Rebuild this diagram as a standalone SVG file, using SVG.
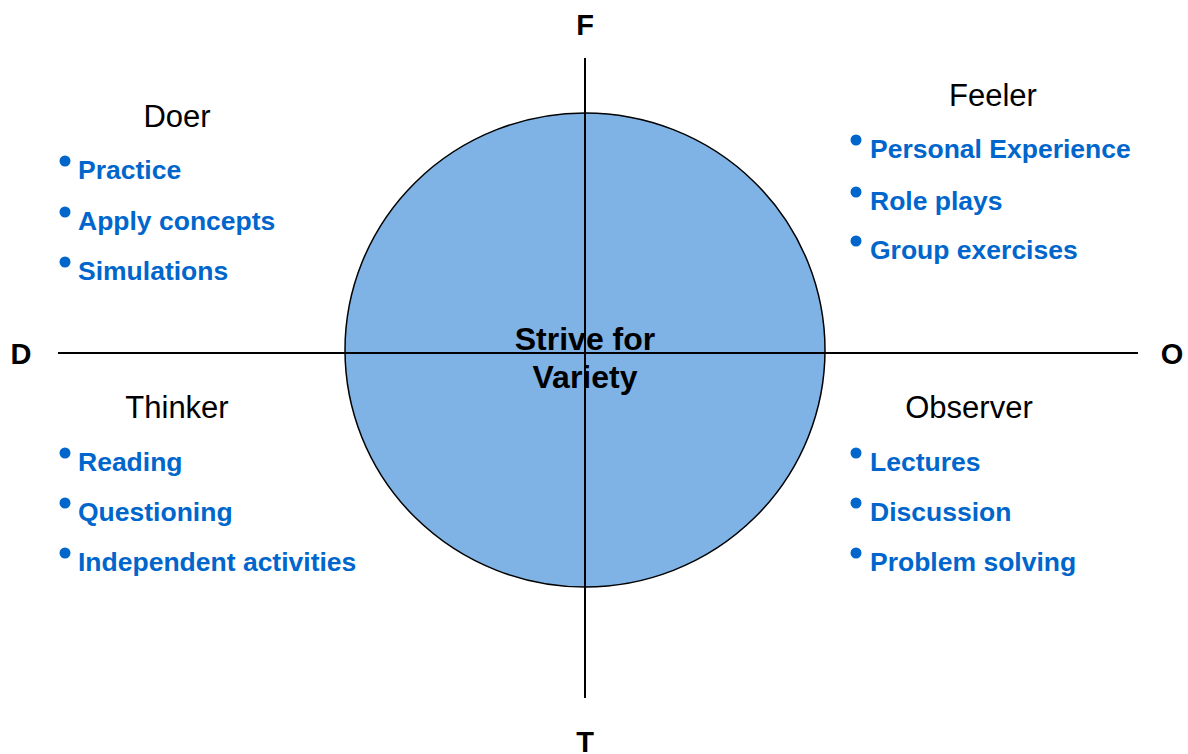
<svg xmlns="http://www.w3.org/2000/svg" width="1188" height="754" viewBox="0 0 1188 754">
<style>
.ax{font-family:"Liberation Sans",Arial,sans-serif;font-weight:bold;font-size:29px;fill:#000;text-anchor:middle}
.hd{font-family:"Liberation Sans",Arial,sans-serif;font-size:31px;fill:#000;text-anchor:middle}
.it{font-family:"Liberation Sans",Arial,sans-serif;font-weight:bold;font-size:26.5px;fill:#0066CC}
.ct{font-family:"Liberation Sans",Arial,sans-serif;font-weight:bold;font-size:32px;fill:#000;text-anchor:middle}
.dot{fill:#0066CC}
.ln{stroke:#000;stroke-width:2;fill:none}
</style>
<rect width="1188" height="754" fill="#fff"/>
<g id="circle">
<ellipse cx="585" cy="350" rx="240" ry="237" fill="#7FB2E5" stroke="#000" stroke-width="1.5"/>
</g>
<g id="connectors">
<line class="ln" x1="58" y1="353" x2="1138" y2="353"/>
<line class="ln" x1="585" y1="58" x2="585" y2="698"/>
</g>
<g id="axis-labels">
<text class="ax" x="585" y="35">F</text>
<text class="ax" x="585" y="752">T</text>
<text class="ax" x="21" y="364">D</text>
<text class="ax" x="1172" y="364">O</text>
</g>
<g id="center">
<text class="ct" x="585" y="350">Strive for</text>
<text class="ct" x="585" y="388">Variety</text>
</g>
<g id="doer">
<text class="hd" x="177" y="127">Doer</text>
<circle class="dot" cx="65" cy="161" r="5.5"/><text class="it" x="78" y="179">Practice</text>
<circle class="dot" cx="65" cy="212" r="5.5"/><text class="it" x="78" y="230">Apply concepts</text>
<circle class="dot" cx="65" cy="262" r="5.5"/><text class="it" x="78" y="280">Simulations</text>
</g>
<g id="feeler">
<text class="hd" x="993" y="106">Feeler</text>
<circle class="dot" cx="856" cy="140" r="5.5"/><text class="it" x="870" y="158">Personal Experience</text>
<circle class="dot" cx="856" cy="192" r="5.5"/><text class="it" x="870" y="210">Role plays</text>
<circle class="dot" cx="856" cy="241" r="5.5"/><text class="it" x="870" y="259">Group exercises</text>
</g>
<g id="thinker">
<text class="hd" x="177" y="418">Thinker</text>
<circle class="dot" cx="65" cy="453" r="5.5"/><text class="it" x="78" y="471">Reading</text>
<circle class="dot" cx="65" cy="503" r="5.5"/><text class="it" x="78" y="521">Questioning</text>
<circle class="dot" cx="65" cy="553" r="5.5"/><text class="it" x="78" y="571">Independent activities</text>
</g>
<g id="observer">
<text class="hd" x="969" y="418">Observer</text>
<circle class="dot" cx="856" cy="453" r="5.5"/><text class="it" x="870" y="471">Lectures</text>
<circle class="dot" cx="856" cy="503" r="5.5"/><text class="it" x="870" y="521">Discussion</text>
<circle class="dot" cx="856" cy="553" r="5.5"/><text class="it" x="870" y="571">Problem solving</text>
</g>
</svg>
